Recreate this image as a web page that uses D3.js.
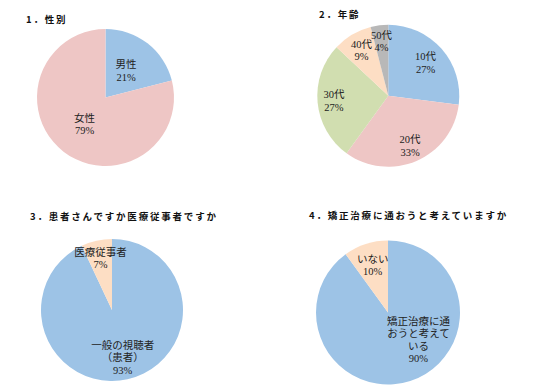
<!DOCTYPE html>
<html><head><meta charset="utf-8">
<script src="https://cdn.jsdelivr.net/npm/d3@7"></script>
<style>
html,body{margin:0;padding:0;background:#fff;}
svg{display:block;}
</style></head>
<body>
<svg id="c" width="540" height="390"></svg>
<script>
// ---- data ----
const titles = ["1．性別", "2．年齢", "3．患者さんですか医療従事者ですか", "4．矯正治療に通おうと考えていますか"];

const sexLabels = ["男性", "女性"];
const sexValues = [21, 79];

const ageLabels = ["10代", "20代", "30代", "40代", "50代"];
const ageValues = [27, 33, 27, 9, 4];

const roleLabels = [["一般の視聴者", "（患者）"], ["医療従事者"]];
const roleValues = [93, 7];

const planLabels = [["矯正治療に通", "おうと考えて", "いる"], ["いない"]];
const planValues = [90, 10];

// ---- styles / layout ----
const blue = "#9DC3E6", pink = "#EEC6C5", green = "#D1DEB0", peach = "#FDDEC4", gray = "#B8B8B8";

const charts = [
  { title: titles[0], tx: 26, ty: 19, cx: 105.5, cy: 97.5, r: 68.5,
    labels: sexLabels.map(d => [d]), values: sexValues, colors: [blue, pink],
    frac: [0.49, 0.50], ang: [null, null] },
  { title: titles[1], tx: 319, ty: 14, cx: 388.3, cy: 95.8, r: 71,
    labels: ageLabels.map(d => [d]), values: ageValues, colors: [blue, pink, green, peach, gray],
    frac: [0.70, 0.77, 0.77, 0.74, 0.77], ang: [null, null, null, null, null] },
  { title: titles[2], tx: 30, ty: 215.5, cx: 112, cy: 310, r: 71,
    labels: roleLabels, values: roleValues, colors: [blue, peach],
    frac: [0.69, 0.74], ang: [null, null] },
  { title: titles[3], tx: 309, ty: 215, cx: 388, cy: 312.5, r: 72,
    labels: planLabels, values: planValues, colors: [blue, peach],
    frac: [0.57, 0.69], ang: [132, null] }
];

const svg = d3.select("#c");
const lineH = 12.5;

charts.forEach(ch => {
  svg.append("text")
    .attr("x", ch.tx).attr("y", ch.ty)
    .attr("dominant-baseline", "central")
    .attr("font-family", "'Noto Sans CJK JP', 'Noto Sans', sans-serif")
    .attr("font-weight", "bold")
    .attr("font-size", 9.5)
    .attr("letter-spacing", 1.8)
    .attr("fill", "#111")
    .text(ch.title);

  const pie = d3.pie().sort(null).value(d => d)(ch.values);
  const arc = d3.arc().innerRadius(0).outerRadius(ch.r);
  const g = svg.append("g").attr("transform", `translate(${ch.cx},${ch.cy})`);

  g.selectAll("path").data(pie).join("path")
    .attr("d", arc)
    .attr("fill", (d, i) => ch.colors[i]);

  const total = d3.sum(ch.values);
  pie.forEach((d, i) => {
    const a = ch.ang[i] != null ? ch.ang[i] * Math.PI / 180 : (d.startAngle + d.endAngle) / 2;
    const rr = ch.r * ch.frac[i];
    const x = Math.sin(a) * rr, y = -Math.cos(a) * rr;
    const lines = ch.labels[i].concat([Math.round(d.value / total * 100) + "%"]);
    const t = g.append("text")
      .attr("text-anchor", "middle")
      .attr("font-family", "'Liberation Serif', 'Noto Sans CJK JP', serif")
      .attr("font-size", 10.5)
      .attr("fill", "#222");
    const y0 = y - (lines.length - 1) * lineH / 2;
    lines.forEach((s, k) => {
      t.append("tspan")
        .attr("x", x)
        .attr("y", y0 + k * lineH)
        .attr("dominant-baseline", "central")
        .text(s);
    });
  });
});
</script>
</body></html>
